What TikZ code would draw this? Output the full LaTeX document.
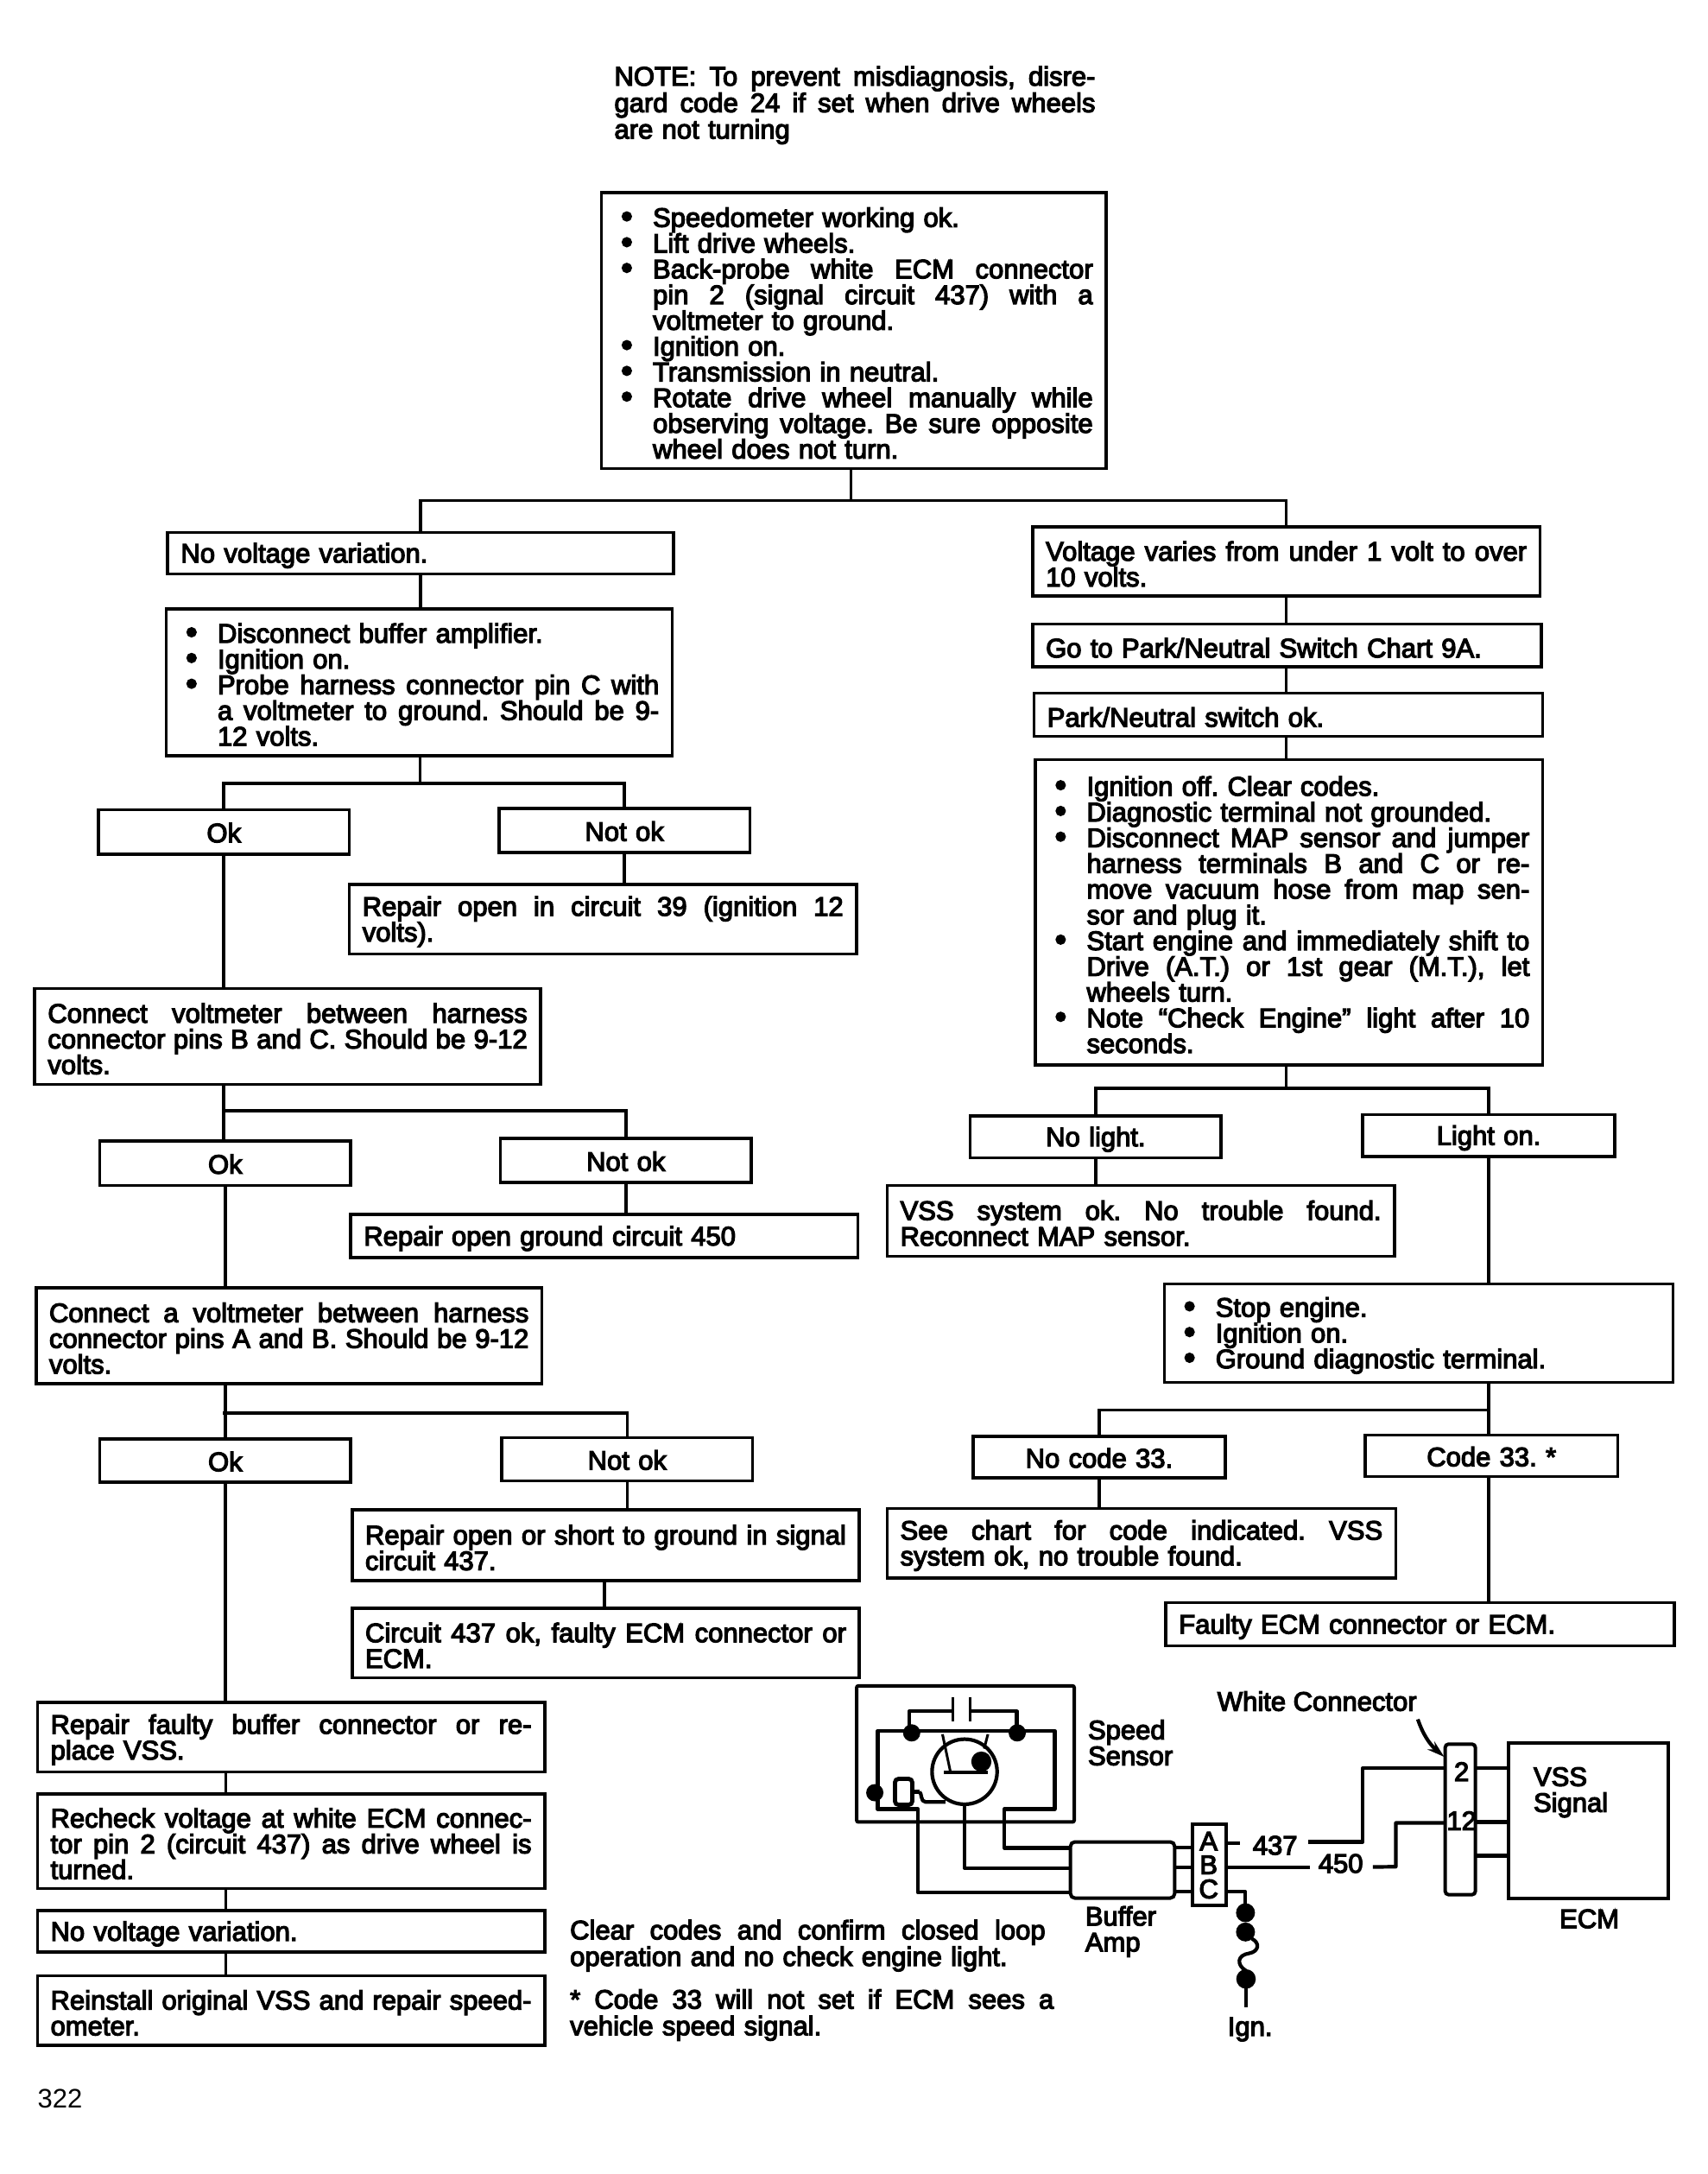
\documentclass[tikz,border=0pt]{standalone}
\usepackage{fontspec}
\usepackage{graphicx}
\usetikzlibrary{arrows.meta,calc}
\setmainfont{Liberation Sans}
\newfontfamily\heavy{Liberation Sans}[BoldFont={Liberation Sans},BoldFeatures={FakeBold=4}]
\newlength\uu \setlength\uu{0.8028pt}
\newlength\indw \setlength\indw{27.5\uu}
\newcommand\JL[1]{\spaceskip=.278em plus 1fil minus .06em\relax\xspaceskip=\spaceskip #1}
\newcommand\LJ[1]{\hbox to\linewidth{\JL{#1}}\par}
\newcommand\LN[1]{\makebox[\linewidth][l]{#1}\par}
\newcommand\LC[1]{\makebox[\linewidth][c]{\raisebox{2pt}{#1}}\par}
\newcommand\BtMark{\makebox[\indw][l]{\hspace{4.5\uu}\raisebox{-0.4pt}{\scalebox{1.25}{\textbullet}}}}
\newcommand\BtN[1]{\BtMark\makebox[\dimexpr\linewidth-\indw\relax][l]{#1}\par}
\newcommand\BtJ[1]{\hbox to\linewidth{\BtMark\JL{#1}}\par}
\newcommand\CtN[1]{\hspace*{\indw}\makebox[\dimexpr\linewidth-\indw\relax][l]{#1}\par}
\newcommand\CtJ[1]{\hbox to\linewidth{\hspace*{\indw}\JL{#1}}\par}
\tikzset{
 wire/.style={line width=1.8pt,line join=miter},
 swire/.style={line width=2.1pt,line join=round},
 thin wire/.style={line width=1.5pt},
 box/.style={draw,line width=1.8pt,inner xsep=9.5\uu,inner ysep=0pt,font=\heavy\bfseries\fontsize{15.5}{14.9}\selectfont,anchor=center},
 txt/.style={inner sep=0pt,anchor=north west,font=\heavy\bfseries\fontsize{15.5}{15.35}\selectfont},
 lbl/.style={inner sep=0pt,font=\heavy\bfseries\fontsize{15.5}{15}\selectfont,align=left},
 blob/.style={fill=black,draw=none},
 part/.style={draw,line width=2pt,inner sep=0pt,outer sep=0pt,anchor=north west}
}
\newcommand\bx[7][]{\node[box,#1,text width={(#5-#3-19)*\uu},minimum width={(#5-#3)*\uu},minimum height={(#6-#4)*\uu}] (#2) at ({(#3+#5)/2},{(#4+#6)/2}) {\vbox{\parindent=0pt\lineskiplimit=-20pt\relax\kern 3.5\uu\nointerlineskip #7}};}
\begin{document}
\frenchspacing
\begin{tikzpicture}[x=0.8028pt,y=-0.8028pt]
\useasboundingbox (0,0) rectangle (1232,1568);
% note
\node[txt,text width=347*\uu] (note) at (443,47.5) {\lineskiplimit=-20pt\relax\LJ{NOTE: To prevent misdiagnosis, disre-}\LJ{gard code 24 if set when drive wheels}\LN{are not turning}};
% main box
\bx{main}{434}{139}{798}{338}{\BtN{Speedometer working ok.}\BtN{Lift drive wheels.}\BtJ{Back-probe white ECM connector}\CtJ{pin 2 (signal circuit 437) with a}\CtN{voltmeter to ground.}\BtN{Ignition on.}\BtN{Transmission in neutral.}\BtJ{Rotate drive wheel manually while}\CtJ{observing voltage. Be sure opposite}\CtN{wheel does not turn.}}
% left column
\bx{nvv}{121}{384}{486}{414}{\LN{No voltage variation.}}
\bx{dba}{120}{439}{485}{545}{\BtN{Disconnect buffer amplifier.}\BtN{Ignition on.}\BtJ{Probe harness connector pin C with}\CtJ{a voltmeter to ground. Should be 9-}\CtN{12 volts.}}
\bx{ok1}{71}{584}{252}{616}{\LC{Ok}}
\bx{nok1}{360}{583}{541}{615}{\LC{Not ok}}
\bx{rep39}{252}{638}{618}{688}{\LJ{Repair open in circuit 39 (ignition 12}\LN{volts).}}
\bx{cvb}{25}{713}{390}{782}{\LJ{Connect voltmeter between harness}\LJ{connector pins B and C. Should be 9-12}\LN{volts.}}
\bx{ok2}{72}{823}{253}{855}{\LC{Ok}}
\bx{nok2}{361}{821}{542}{853}{\LC{Not ok}}
\bx{rep450}{253}{876}{619}{907}{\LN{Repair open ground circuit 450}}
\bx{cva}{26}{929}{391}{998}{\LJ{Connect a voltmeter between harness}\LJ{connector pins A and B. Should be 9-12}\LN{volts.}}
\bx{ok3}{72}{1038}{253}{1069}{\LC{Ok}}
\bx{nok3}{362}{1037}{543}{1068}{\LC{Not ok}}
\bx{rep437}{254}{1089}{620}{1140}{\LJ{Repair open or short to ground in signal}\LN{circuit 437.}}
\bx{c437}{254}{1160}{620}{1210}{\LJ{Circuit 437 ok, faulty ECM connector or}\LN{ECM.}}
\bx{rfb}{27}{1228}{393}{1278}{\LJ{Repair faulty buffer connector or re-}\LN{place VSS.}}
\bx{rck}{27}{1294}{393}{1362}{\LJ{Recheck voltage at white ECM connec-}\LJ{tor pin 2 (circuit 437) as drive wheel is}\LN{turned.}}
\bx{nvv2}{27}{1378}{393}{1408}{\LN{No voltage variation.}}
\bx{rei}{27}{1425}{393}{1475}{\LJ{Reinstall original VSS and repair speed-}\LN{ometer.}}
% right column
\bx{vv}{745}{380}{1111}{430}{\LJ{Voltage varies from under 1 volt to over}\LN{10 volts.}}
\bx{park}{745}{450}{1112}{481}{\LN{Go to Park/Neutral Switch Chart 9A.}}
\bx{pnok}{746}{500}{1113}{531}{\LN{Park/Neutral switch ok.}}
\bx{ign}{747}{548}{1113}{768}{\BtN{Ignition off. Clear codes.}\BtN{Diagnostic terminal not grounded.}\BtJ{Disconnect MAP sensor and jumper}\CtJ{harness terminals B and C or re-}\CtJ{move vacuum hose from map sen-}\CtN{sor and plug it.}\BtJ{Start engine and immediately shift to}\CtJ{Drive (A.T.) or 1st gear (M.T.), let}\CtN{wheels turn.}\BtJ{Note “Check Engine” light after 10}\CtN{seconds.}}
\bx{nol}{700}{805}{881}{835}{\LC{No light.}}
\bx{lon}{983}{804}{1165}{834}{\LC{Light on.}}
\bx{vssok}{640}{855}{1006}{906}{\LJ{VSS system ok. No trouble found.}\LN{Reconnect MAP sensor.}}
\bx{stop}{840}{926}{1207}{997}{\BtN{Stop engine.}\BtN{Ignition on.}\BtN{Ground diagnostic terminal.}}
\bx{noc}{702}{1036}{884}{1066}{\LC{No code 33.}}
\bx{c33}{985}{1035}{1167}{1065}{\LC{Code 33. *}}
\bx{see}{640}{1088}{1007}{1138}{\LJ{See chart for code indicated. VSS}\LN{system ok, no trouble found.}}
\bx{fecm}{841}{1156}{1208}{1187}{\LN{Faulty ECM connector or ECM.}}
% free texts
\node[txt,text width=343*\uu] (clr) at (411,1384.5) {\lineskiplimit=-20pt\relax\LJ{Clear codes and confirm closed loop}\LN{operation and no check engine light.}};
\node[txt,text width=349*\uu] (cod) at (411,1434.5) {\lineskiplimit=-20pt\relax\LJ{* Code 33 will not set if ECM sees a}\LN{vehicle speed signal.}};
\node[inner sep=0pt,anchor=west,font=\fontsize{15.5}{15}\selectfont] (page) at (27,1513.5) {322};
% connectors
\coordinate (j1) at (614,361);
\draw[wire] (main.south -| j1) -- (j1);
\draw[wire] (nvv.north) |- (j1) -| (vv.north);
\draw[wire] (nvv.south) -- (nvv.south |- dba.north);
\coordinate (j2) at (303,565);
\draw[wire] (j2 |- dba.south) -- (j2);
\draw[wire] (ok1.north) |- (j2) -| (nok1.north);
\draw[wire] (nok1.south) -- (nok1.south |- rep39.north);
\draw[wire] (ok1.south) -- (ok1.south |- cvb.north);
\coordinate (j3) at (161,801);
\draw[wire] (ok1.south |- cvb.south) -- (ok1.south |- ok2.north);
\draw[wire] (j3) -| (nok2.north);
\draw[wire] (nok2.south) -- (nok2.south |- rep450.north);
\draw[wire] (ok2.south) -- (ok2.south |- cva.north);
\coordinate (j4) at (161,1019);
\draw[wire] (ok2.south |- cva.south) -- (ok2.south |- ok3.north);
\draw[wire] (j4) -| (nok3.north);
\draw[wire] (nok3.south) -- (nok3.south |- rep437.north);
\coordinate (j5) at (436,1140);
\draw[wire] (j5) -- (j5 |- c437.north);
\draw[wire] (ok3.south) -- (ok3.south |- rfb.north);
\coordinate (j6) at (163,1278);
\draw[wire] (j6) -- (j6 |- rck.north);
\draw[wire] (j6 |- rck.south) -- (j6 |- nvv2.north);
\draw[wire] (j6 |- nvv2.south) -- (j6 |- rei.north);
\coordinate (j9) at (928,400);
\draw[wire] (j9 |- vv.south) -- (j9 |- park.north);
\draw[wire] (j9 |- park.south) -- (j9 |- pnok.north);
\draw[wire] (j9 |- pnok.south) -- (j9 |- ign.north);
\coordinate (j7) at (928,785);
\draw[wire] (j7 |- ign.south) -- (j7);
\draw[wire] (nol.north) |- (j7) -| (lon.north);
\draw[wire] (nol.south) -- (nol.south |- vssok.north);
\draw[wire] (lon.south) -- (lon.south |- stop.north);
\coordinate (j8) at (1074,1017);
\draw[wire] (lon.south |- stop.south) -- (lon.south |- c33.north);
\draw[wire] (noc.north) |- (j8);
\draw[wire] (noc.south) -- (noc.south |- see.north);
\draw[wire] (lon.south |- c33.south) -- (lon.south |- fecm.north);
% schematic, in picture pixels
\begin{scope}[x=0.5pt,y=-0.5pt]
 \node[part,rounded corners=1pt,minimum width=126pt,minimum height=78.8pt] (sensor) at (992.3,1952.3) {};
 \node[part,rounded corners=2.5pt,minimum width=60.3pt,minimum height=32.5pt] (buf) at (1240,2133) {};
 \node[part,minimum width=19.2pt,minimum height=47pt] (abc) at (1381.7,2112.8) {};
 \node[part,rounded corners=2pt,minimum width=17.5pt,minimum height=87.2pt] (wc) at (1674,2019.7) {};
 \node[part,minimum width=92.4pt,minimum height=90pt] (ecm) at (1747.5,2018) {};
 % sensor interior
 \draw[thin wire] (1103.3,1965) -- (1103.3,1993.3) (1123.3,1965) -- (1123.3,1993.3);
 \draw[swire] (1103.3,1981.7) -- (1053.3,1981.7) -- (1053.3,2001.7);
 \draw[swire] (1123.3,1981.7) -- (1177.7,1981.7) -- (1177.7,2001.7);
 \draw[swire] (1016.7,2068.3) -- (1016.7,2004.3) -- (1221.7,2004.3) -- (1221.7,2095) -- (1163.3,2095) -- (1163.3,2140) -- (buf.west |- 1163.3,2140);
 \fill[blob] (1056,2006.7) circle (10);
 \fill[blob] (1178.3,2006.7) circle (10);
 \draw[swire] (1117.3,2051.7) circle (37.7);
 \draw[thin wire] (1091.7,2008.3) -- (1101,2052.3);
 \draw[thin wire] (1144.3,2008.3) -- (1140,2025);
 \draw[swire] (1093.3,2052.3) -- (1144.3,2052.3);
 \fill[blob] (1136.7,2040) circle (11.7);
 \fill[blob] (1013.3,2076) circle (10);
 \draw[swire] (1065,2075) .. controls (1068,2076) and (1066,2086.7) .. (1072,2086.7) -- (1095,2086.7);
 \node[part,rounded corners=2pt,fill=white,line width=2.4pt,minimum width=10pt,minimum height=15pt] (pk) at (1036.7,2060) {};
 \draw[swire] (pk.east |- 0,2075) -- (1065,2075);
 \draw[swire] (1016.7,2078.3) -- (1016.7,2095) -- (1063.3,2095) -- (1063.3,2191.7) -- (buf.west |- 0,2191.7);
 \draw[swire] (1117.3,2088.3) -- (1117.3,2163.3) -- (buf.west |- 0,2163.3);
 % buffer to ABC
 \foreach \yy in {2139.8,2162.8,2190.8} \draw[swire] (buf.east |- 0,\yy) -- (abc.west |- 0,\yy);
 \node[lbl] (la) at (1400,2132) {A};
 \node[lbl] (lb) at (1400,2159.5) {B};
 \node[lbl] (lc) at (1400,2187.5) {C};
 \node[lbl] (t437) at (1477,2137) {437};
 \node[lbl] (t450) at (1553,2158) {450};
 \draw[swire] (abc.east |- 0,2134.7) -- (1436.7,2134.7);
 \draw[swire] (abc.east |- 0,2162.3) -- ($(t450.west |- 0,2162.3)+(-9,0)$);
 \draw[swire] (t437.east) ++(12,-4) -- (1578.6,2133) -- (1578.6,2047.6) -- (wc.west |- 0,2047.6);
 \draw[swire] (t450.east) ++(11,4) -- (1616.8,2161.7) -- (1616.8,2111) -- (wc.west |- 0,2111);
 \draw[swire] (abc.east |- 0,2190.7) -- (1442.7,2190.7) -- (1442.7,2205);
 \fill[blob] (1442.7,2215) circle (11);
 \fill[blob] (1442.7,2237.3) circle (11);
 \fill[blob] (1443.3,2291.7) circle (11.3);
 \draw[swire] (1450,2245) .. controls (1460,2250) and (1458,2260) .. (1447,2262) .. controls (1433,2264) and (1432,2275) .. (1443,2282);
 \draw[swire] (1443.3,2300) -- (1443.3,2324.3);
 % connector to ECM
 \node[lbl] (t2) at (1693,2051.6) {2};
 \node[lbl] (t12) at (1693,2108.5) {12};
 \foreach \yy in {2047.6,2110,2149} \draw[swire] (wc.east |- 0,\yy) -- (ecm.west |- 0,\yy);
 \node[lbl,anchor=center] (twc) at (1525.6,1970) {White Connector};
 \draw[swire,-{Stealth[length=10pt,width=6pt]}] (1642.3,1991) .. controls (1648,2008) and (1656,2020) .. (1672.9,2034.5);
 \node[lbl,anchor=west] (tss) at (1259.9,2018) {Speed\\[0pt]Sensor};
 \node[lbl,anchor=west] (tvss) at (1776,2075.6) {VSS\\[0pt]Signal};
 \node[lbl,anchor=center] (tecm) at (1841,2222) {ECM};
 \node[lbl,anchor=west] (tbuf) at (1256.7,2236.8) {Buffer\\[0pt]Amp};
 \node[lbl,anchor=center] (tign) at (1448,2350) {Ign.};
\end{scope}
\end{tikzpicture}
\end{document}
